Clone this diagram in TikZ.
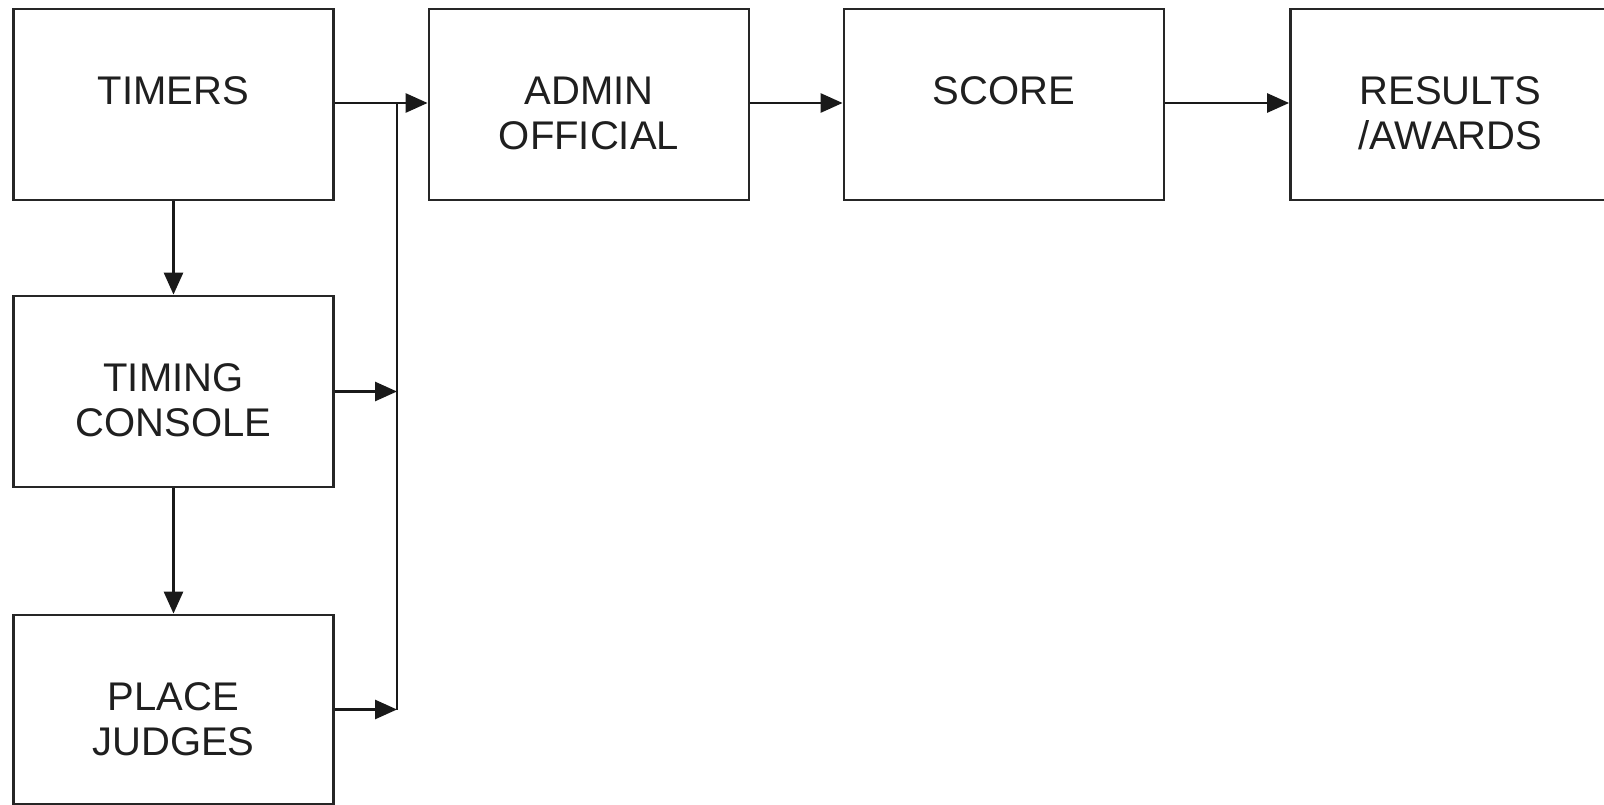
\documentclass[tikz,border=0pt]{standalone}
\usepackage{fontspec}
\setmainfont{Liberation Sans}
\usetikzlibrary{arrows.meta,calc}
\tikzset{
  box/.style={draw=black!85, line width=2.8pt, minimum width=320pt, minimum height=191pt, inner sep=0pt, fill=white},
  lbl/.style={anchor=north, inner sep=0pt, align=center, text=black!88, font=\fontsize{40}{45}\selectfont},
  arr/.style={draw=black!90, line width=2.8pt, -{Triangle[length=22pt,width=19pt]}},
  ln/.style={draw=black!90, line width=2.8pt},
}
\begin{document}
\begin{tikzpicture}[x=1pt,y=-1pt]
\useasboundingbox (0,0) rectangle (1604,805);
% boxes
\node[box] (timers) at (173.5,104.5) {};
\node[box] (timing) at (173.5,391.5) {};
\node[box, minimum height=189pt] (place) at (173.5,709.5) {};
\node[box] (admin) at (589,104.5) {};
\node[box] (score) at (1004,104.5) {};
\node[box] (results) at (1450.5,104.5) {};
% labels
\node[lbl] (timersT) at ($(timers.north)+(0,69)$) {TIMERS};
\node[lbl] (timingT) at ($(timing.north)+(0,69)$) {TIMING\\CONSOLE};
\node[lbl] (placeT) at ($(place.north)+(0,69)$) {PLACE\\JUDGES};
\node[lbl] (adminT) at ($(admin.north)+(0,69)$) {ADMIN\\OFFICIAL};
\node[lbl] (scoreT) at ($(score.north)+(0,69)$) {SCORE};
\node[lbl] (resultsT) at ($(results.north)+(0,69)$) {RESULTS\\/AWARDS};
% bus
\coordinate (bustop) at (397,103);
\coordinate (busbot) at (397,709.5);
\draw[ln] (bustop) -- (busbot);
% connectors
\draw[arr] (timers.east |- bustop) -- (admin.west |- bustop);
\draw[arr] (timing.east) -- (timing.east -| bustop);
\draw[arr] (place.east) -- (place.east -| bustop);
\draw[arr] (timers.south) -- (timing.north);
\draw[arr] (timing.south) -- (place.north);
\draw[arr] (admin.east |- bustop) -- (score.west |- bustop);
\draw[arr] (score.east |- bustop) -- (results.west |- bustop);
\end{tikzpicture}
\end{document}
